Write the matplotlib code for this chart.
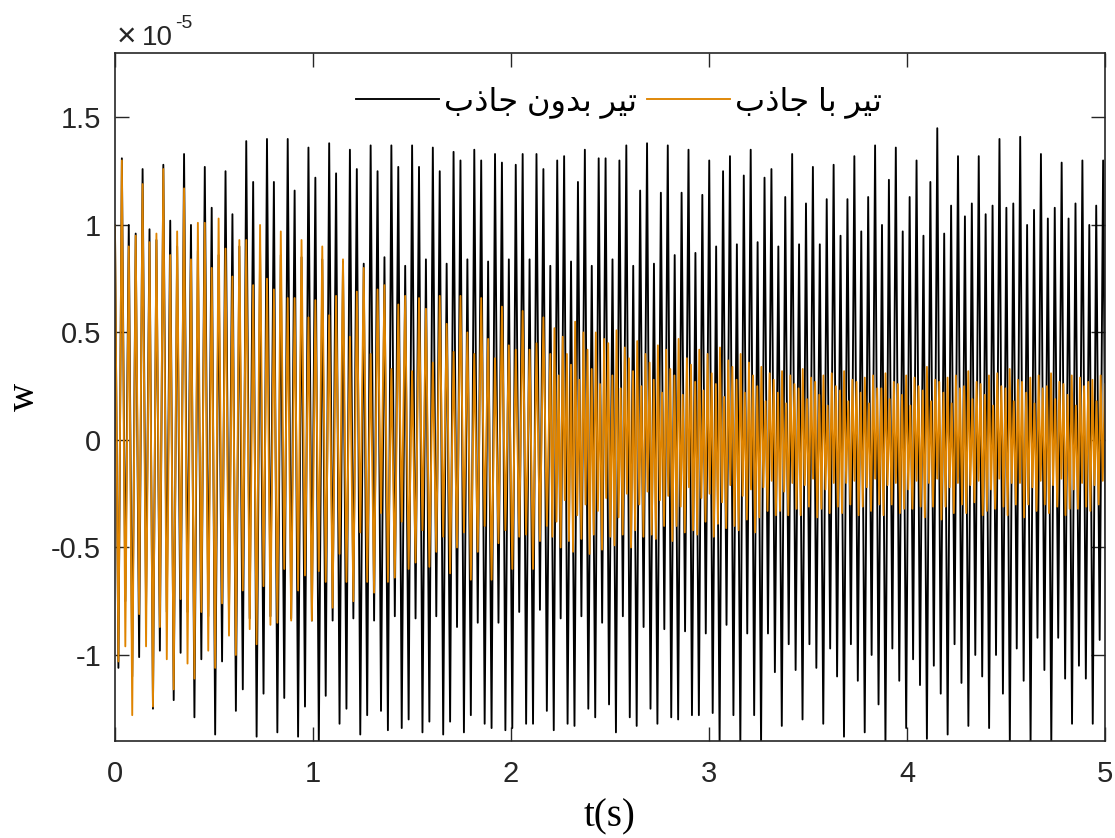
import matplotlib.pyplot as plt
import numpy as np

plt.rcParams['font.family'] = ['Liberation Sans', 'DejaVu Sans']
plt.rcParams['axes.unicode_minus'] = False

# time between successive extrema of the traces (s)
STEP = 0.01745
STEP_FAST = 0.01045   # orange trace after ~2.2 s

# beam without absorber (black), values in 1e-5
# peaks at extrema 0,2,4,... and troughs at 1,3,5,...
black_peaks = [
    1.00, 1.31, 1.00, 0.96, 1.26, 0.98, 0.93, 1.28, 1.02, 0.90, 1.33, 1.00,
    0.88, 1.27, 1.08, 0.86, 1.25, 1.05, 0.90, 1.39, 1.20, 0.88, 1.40, 1.20,
    0.86, 1.40, 1.16, 0.85, 1.36, 1.22, 0.84, 1.38, 1.24, 0.83, 1.35, 1.26,
    0.82, 1.37, 1.25, 0.85, 1.37, 1.27, 0.81, 1.37, 1.27, 0.84, 1.36, 1.25,
    0.82, 1.34, 1.30, 0.84, 1.35, 1.30, 0.83, 1.33, 1.29, 0.84, 1.28, 1.33,
    0.84, 1.33, 1.26, 0.81, 1.30, 1.32, 0.83, 1.20, 1.35, 0.81, 1.31, 1.31,
    0.84, 1.30, 1.37, 0.81, 1.16, 1.38, 0.82, 1.15, 1.37, 0.86, 1.15, 1.35,
    0.87, 1.14, 1.30, 0.90, 1.25, 1.32, 0.91, 1.23, 1.35, 0.92, 1.22, 1.26,
    0.90, 1.13, 1.33, 0.91, 1.10, 1.27, 0.91, 1.12, 1.28, 0.95, 1.12, 1.32,
    0.97, 1.13, 1.37, 1.00, 1.21, 1.36, 0.97, 1.13, 1.30, 0.95, 1.20, 1.45,
    0.96, 1.09, 1.32, 1.04, 1.10, 1.32, 1.05, 1.09, 1.40, 1.08, 1.10, 1.41,
    1.00, 1.07, 1.33, 1.03, 1.08, 1.29, 1.03, 1.10, 1.30, 1.00, 1.09, 1.30,
]
black_troughs = [
    -1.06, -0.75, -1.10, -1.01, -0.78, -1.25, -0.98, -0.80, -1.21, -0.99, -0.80, -1.29,
    -1.02, -0.82, -1.37, -1.03, -0.82, -1.26, -1.16, -0.83, -1.38, -1.18, -0.82, -1.36,
    -1.20, -0.83, -1.38, -1.24, -0.84, -1.42, -1.19, -0.84, -1.32, -1.25, -0.83, -1.37,
    -1.28, -0.84, -1.26, -1.35, -0.82, -1.34, -1.30, -0.83, -1.36, -1.31, -0.82, -1.37,
    -1.31, -0.87, -1.36, -1.28, -0.85, -1.32, -1.34, -0.85, -1.35, -1.34, -0.80, -1.32,
    -1.32, -0.79, -1.26, -1.35, -0.83, -1.32, -1.33, -0.82, -1.25, -1.29, -0.85, -1.23,
    -1.36, -0.82, -1.29, -1.33, -0.87, -1.25, -1.32, -0.88, -1.29, -1.30, -0.89, -1.28,
    -1.28, -0.90, -1.27, -1.42, -0.86, -1.28, -1.42, -0.90, -1.28, -1.42, -0.90, -1.08,
    -1.33, -0.95, -1.07, -1.30, -0.95, -1.06, -1.32, -0.97, -1.10, -1.38, -0.95, -1.12,
    -1.36, -1.00, -1.23, -1.42, -0.97, -1.12, -1.34, -1.02, -1.14, -1.39, -1.05, -1.18,
    -1.37, -0.95, -1.13, -1.33, -1.00, -1.10, -1.34, -1.00, -1.18, -1.42, -0.97, -1.12,
    -1.42, -0.92, -1.07, -1.42, -0.92, -1.11, -1.32, -1.05, -1.11, -1.32, -0.93, -1.10,
]

# beam with absorber (orange), first part on the same extrema grid
orange_peaks = [
    1.00, 1.30, 0.90, 0.95, 1.19, 0.92, 0.96, 1.26, 0.86, 0.97, 1.17, 0.84,
    1.01, 1.01, 0.80, 1.03, 0.89, 0.76, 0.93, 0.93, 0.72, 1.00, 0.75, 0.70,
    0.97, 0.66, 0.66, 0.93, 0.57, 0.65, 0.90, 0.58, 0.67, 0.84, 0.48, 0.69,
    0.80, 0.40, 0.70, 0.72, 0.33, 0.63, 0.67, 0.32, 0.66, 0.61, 0.36, 0.67,
    0.54, 0.41, 0.67, 0.50, 0.40, 0.66, 0.47, 0.38, 0.62, 0.44, 0.42, 0.60,
    0.42, 0.45, 0.57, 0.40,
]
orange_troughs = [
    -1.03, -0.96, -1.28, -0.81, -0.96, -1.24, -0.87, -1.02, -1.16, -0.74, -1.04, -1.11,
    -0.80, -0.98, -1.06, -0.76, -0.91, -1.00, -0.70, -0.88, -0.95, -0.68, -0.86, -0.85,
    -0.60, -0.84, -0.70, -0.63, -0.84, -0.61, -0.66, -0.78, -0.53, -0.66, -0.75, -0.43,
    -0.66, -0.71, -0.34, -0.66, -0.64, -0.38, -0.60, -0.57, -0.42, -0.59, -0.52, -0.45,
    -0.62, -0.50, -0.43, -0.65, -0.52, -0.40, -0.65, -0.48, -0.42, -0.60, -0.45, -0.44,
    -0.60, -0.47, -0.40,
]
# orange after ~2.2 s, faster oscillation, alternating trough / peak
orange_late = [
    -0.45, 0.52, -0.38, 0.30, -0.50, 0.48, -0.28, 0.40, -0.47, 0.35,
    -0.52, 0.55, -0.35, 0.28, -0.46, 0.50, -0.30, 0.42, -0.53, 0.33,
    -0.44, 0.50, -0.33, 0.26, -0.51, 0.47, -0.27, 0.45, -0.45, 0.30,
    -0.49, 0.51, -0.36, 0.24, -0.44, 0.43, -0.25, 0.38, -0.50, 0.32,
    -0.42, 0.46, -0.30, 0.25, -0.45, 0.40, -0.24, 0.36, -0.44, 0.28,
    -0.46, 0.44, -0.28, 0.22, -0.40, 0.42, -0.26, 0.33, -0.47, 0.30,
    -0.40, 0.47, -0.31, 0.21, -0.43, 0.38, -0.22, 0.35, -0.42, 0.27,
    -0.44, 0.42, -0.27, 0.23, -0.38, 0.40, -0.25, 0.31, -0.45, 0.26,
    -0.39, 0.43, -0.29, 0.20, -0.41, 0.37, -0.21, 0.34, -0.40, 0.28,
    -0.42, 0.40, -0.26, 0.22, -0.37, 0.36, -0.23, 0.30, -0.43, 0.25,
    -0.36, 0.34, -0.22, 0.18, -0.33, 0.31, -0.19, 0.28, -0.35, 0.22,
    -0.33, 0.32, -0.24, 0.17, -0.35, 0.30, -0.20, 0.26, -0.32, 0.24,
    -0.35, 0.33, -0.21, 0.19, -0.31, 0.29, -0.18, 0.27, -0.36, 0.21,
    -0.32, 0.30, -0.23, 0.16, -0.34, 0.31, -0.20, 0.25, -0.31, 0.23,
    -0.34, 0.32, -0.20, 0.18, -0.30, 0.28, -0.19, 0.27, -0.35, 0.22,
    -0.31, 0.29, -0.22, 0.17, -0.33, 0.30, -0.18, 0.24, -0.30, 0.24,
    -0.35, 0.31, -0.21, 0.19, -0.30, 0.27, -0.20, 0.26, -0.34, 0.21,
    -0.32, 0.30, -0.23, 0.16, -0.32, 0.29, -0.19, 0.25, -0.31, 0.23,
    -0.36, 0.34, -0.20, 0.18, -0.31, 0.28, -0.18, 0.27, -0.37, 0.22,
    -0.31, 0.29, -0.22, 0.17, -0.34, 0.30, -0.20, 0.24, -0.30, 0.25,
    -0.34, 0.32, -0.21, 0.19, -0.29, 0.27, -0.19, 0.26, -0.35, 0.21,
    -0.33, 0.30, -0.23, 0.16, -0.32, 0.31, -0.18, 0.25, -0.31, 0.24,
    -0.35, 0.33, -0.20, 0.18, -0.30, 0.28, -0.20, 0.27, -0.36, 0.22,
    -0.30, 0.29, -0.22, 0.17, -0.33, 0.30, -0.19, 0.24, -0.30, 0.25,
    -0.34, 0.31, -0.21, 0.19, -0.31, 0.27, -0.18, 0.26, -0.35, 0.21,
    -0.32, 0.30, -0.23, 0.16, -0.32, 0.29, -0.20, 0.25, -0.31, 0.27,
    -0.33, 0.28, -0.21, 0.18, -0.30, 0.30, -0.19, 0.26, -0.34,
]

# legend labels, Persian written in presentation forms, visual order
label_black = '\uFE8F\uFEAB\uFE8E\uFE9F \uFEE5\uFEED\uFEAA\uFE91 \uFEAE\uFEF4\uFE97'
label_orange = '\uFE8F\uFEAB\uFE8E\uFE9F \uFE8E\uFE91 \uFEAE\uFEF4\uFE97'

xticks = [0, 1, 2, 3, 4, 5]
yticks = [-1, -0.5, 0, 0.5, 1, 1.5]
ytick_labels = ['-1', '-0.5', '0', '0.5', '1', '1.5']


def zigzag(peaks, troughs):
    w = np.empty(len(peaks) + len(troughs))
    w[0::2] = peaks
    w[1::2] = troughs
    return w


w_black = zigzag(black_peaks, black_troughs)
t_black = np.arange(len(w_black)) * STEP

w_orange_a = zigzag(orange_peaks, orange_troughs)
t_orange_a = np.arange(len(w_orange_a)) * STEP
t_orange_b = t_orange_a[-1] + np.arange(1, len(orange_late) + 1) * STEP_FAST
w_orange = np.concatenate([w_orange_a, orange_late])
t_orange = np.concatenate([t_orange_a, t_orange_b])

fig = plt.figure(figsize=(11.15, 8.38), dpi=100)
ax = fig.add_axes([0.1031, 0.1158, 0.8879, 0.8210])

l1, = ax.plot(t_black, w_black, color='black', lw=1.35)
l2, = ax.plot(t_orange, w_orange, color='#df8400', lw=1.35)

ax.set_xlim(0, 5)
ax.set_ylim(-1.4, 1.8)
ax.set_xticks(xticks)
ax.set_xticklabels([str(x) for x in xticks])
ax.set_yticks(yticks)
ax.set_yticklabels(ytick_labels)

for s in ax.spines.values():
    s.set_color('#262626')
    s.set_linewidth(1.2)
ax.tick_params(direction='in', length=10, width=1, colors='#262626',
               top=True, right=True, labelsize=21)
ax.tick_params(axis='x', pad=14)
ax.tick_params(axis='y', pad=10)

ax.set_xlabel('t(s)', family='Liberation Serif', fontsize=28, labelpad=7)
ax.set_ylabel('w', family='Liberation Serif', fontsize=28, labelpad=6)

fig.text(0.1045, 0.946, '\u00d7', fontsize=24, color='#262626', va='baseline')
fig.text(0.1275, 0.946, '10', fontsize=20, color='#262626', va='baseline')
fig.text(0.157, 0.966, '-5', fontsize=14, color='#262626', va='baseline')

ax.legend([l1, l2], [label_black, label_orange], loc='center',
          bbox_to_anchor=(0.509, 0.928), ncol=2, frameon=False, fontsize=23,
          handlelength=2.6, handletextpad=0.16, columnspacing=0.3)

fig.savefig('out.png', dpi=100)
